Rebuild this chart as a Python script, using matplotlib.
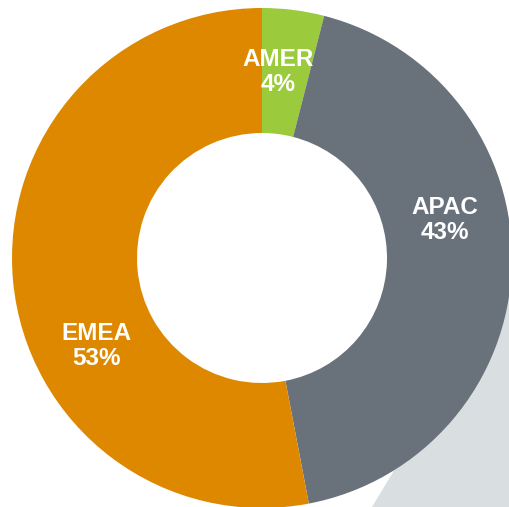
import numpy as np
import matplotlib
matplotlib.use("Agg")
import matplotlib.pyplot as plt
from matplotlib.patches import Polygon

regions = ["AMER", "APAC", "EMEA"]
shares = [4, 43, 53]
colors = ["#9BCB3C", "#69727B", "#DE8800"]

W, H = 509, 507
fig = plt.figure(figsize=(W / 100, H / 100), dpi=100)
ax = fig.add_axes([0, 0, 1, 1])

# decorative background triangle (bottom right)
ax.add_patch(Polygon([(372, 0), (700, 0), (700, 328 * 1.655)], closed=True,
                     facecolor="#D9DEE1", edgecolor="none", zorder=0))

cx, cy, R = 262, 249, 250
wedges, _ = ax.pie(shares, colors=colors, startangle=90, counterclock=False,
                   center=(cx, cy), radius=R,
                   wedgeprops=dict(width=125, edgecolor="none", linewidth=0))
for w in wedges:
    w.set_zorder(2)

label_angles = [85, 11.7, 208]
label_r = 187
for name, val, ang in zip(regions, shares, label_angles):
    x = cx + label_r * np.cos(np.radians(ang))
    y = cy + label_r * np.sin(np.radians(ang))
    ax.text(x, y, f"{name}\n{val}%", ha="center", va="center", color="white",
            fontsize=17.5, fontweight="bold", family="Liberation Sans",
            linespacing=1.1, zorder=3)

ax.set_xlim(0, W)
ax.set_ylim(0, H)
ax.set_aspect("equal")
ax.axis("off")
fig.savefig("out.png", dpi=100)
